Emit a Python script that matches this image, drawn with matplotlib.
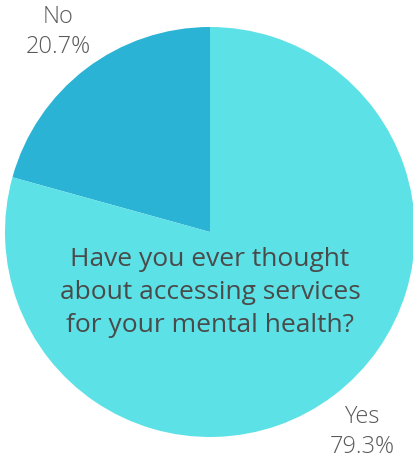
import matplotlib.pyplot as plt

# data
answers = ['No', 'Yes']
shares = [20.7, 79.3]
colors = ['#2bb3d5', '#5ce1e6']
question = 'Have you ever thought\nabout accessing services\nfor your mental health?'

plt.rcParams['font.family'] = ['Open Sans', 'DejaVu Sans']

fig = plt.figure(figsize=(4.14, 4.62), dpi=100)
# pie centre at (210, 232) px from top-left, radius 205 px
ax = fig.add_axes([5 / 414, 25 / 462, 410 / 414, 410 / 462])

labels = [f'{a}\n{s}%' for a, s in zip(answers, shares)]
wedges, texts = ax.pie(shares, labels=labels, colors=colors, startangle=90,
                       counterclock=True, labeldistance=1.225,
                       wedgeprops=dict(linewidth=0),
                       textprops=dict(fontsize=17, color='#5a5a5a',
                                      fontweight='light'))
for t in texts:
    t.set_horizontalalignment('center')
    t.set_verticalalignment('center')
    t.set_linespacing(1.3)

ax.text(0, -0.295, question, ha='center', va='center', fontsize=19,
        color='#4a4a4a', linespacing=1.4)

ax.set_xlim(-1, 1)
ax.set_ylim(-1, 1)
ax.set_aspect('equal')
ax.axis('off')

fig.savefig('out.png', dpi=100)
